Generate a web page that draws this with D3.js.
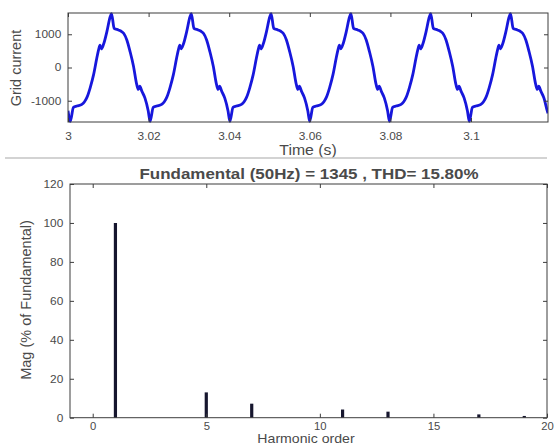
<!DOCTYPE html>
<html>
<head>
<meta charset="utf-8">
<script src="https://cdn.jsdelivr.net/npm/d3@7/dist/d3.min.js"></script>
<style>
  html, body { margin: 0; padding: 0; background: #ffffff; }
  svg { display: block; }
  text { font-family: "Liberation Sans", Arial, Helvetica, sans-serif; }
</style>
</head>
<body>
<svg id="fig" width="555" height="446"></svg>
<script>
// ---- Grid current waveform (time in ms after t = 3 s, current in A) ----
const timeStart = 3;
const timeMs = [
  0,
  0.57, 1.35, 2.2, 3.45, 4.1, 4.7, 5.5, 6.35, 7.15, 7.6, 7.95, 8.25, 8.8, 9.65, 10.45,
  10.8, 11.45, 12.5, 13.2, 13.8, 14.6, 15.4, 16.25, 17.05, 17.45, 17.8, 18.35, 19.1, 19.9,
  20.37, 21.15, 22.0, 23.25, 23.9, 24.5, 25.3, 26.15, 26.95, 27.4, 27.75, 28.05, 28.6, 29.45, 30.25,
  30.6, 31.25, 32.3, 33.0, 33.6, 34.4, 35.2, 36.05, 36.85, 37.25, 37.6, 38.15, 38.9, 39.7,
  40.17, 40.95, 41.8, 43.05, 43.7, 44.3, 45.1, 45.95, 46.75, 47.2, 47.55, 47.85, 48.4, 49.25, 50.05,
  50.4, 51.05, 52.1, 52.8, 53.4, 54.2, 55.0, 55.85, 56.65, 57.05, 57.4, 57.95, 58.7, 59.5,
  59.97, 60.75, 61.6, 62.85, 63.5, 64.1, 64.9, 65.75, 66.55, 67.0, 67.35, 67.65, 68.2, 69.05, 69.85,
  70.2, 70.85, 71.9, 72.6, 73.2, 74.0, 74.8, 75.65, 76.45, 76.85, 77.2, 77.75, 78.5, 79.3,
  79.77, 80.55, 81.4, 82.65, 83.3, 83.9, 84.7, 85.55, 86.35, 86.8, 87.15, 87.45, 88.0, 88.85, 89.65,
  90.0, 90.65, 91.7, 92.4, 93.0, 93.8, 94.6, 95.45, 96.25, 96.65, 97.0, 97.55, 98.3, 99.1,
  99.57, 100.35, 101.2, 102.45, 103.1, 103.7, 104.5, 105.35, 106.15, 106.6, 106.95, 107.25, 107.8, 108.65, 109.45,
  109.8, 110.45, 111.5, 112.2, 112.8, 113.6, 114.4, 115.25, 116.05, 116.45, 116.8, 117.35, 118.1, 118.9,
  119.1
];
const gridCurrent = [
  -1300,
  -1620, -1200, -1160, -1110, -1030, -900, -610, -215, 285, 540, 670, 560, 690, 1080, 1520,
  1620, 1180, 1130, 1090, 1030, 830, 480, 40, -510, -660, -560, -720, -920, -1300,
  -1620, -1200, -1160, -1110, -1030, -900, -610, -215, 285, 540, 670, 560, 690, 1080, 1520,
  1620, 1180, 1130, 1090, 1030, 830, 480, 40, -510, -660, -560, -720, -920, -1300,
  -1620, -1200, -1160, -1110, -1030, -900, -610, -215, 285, 540, 670, 560, 690, 1080, 1520,
  1620, 1180, 1130, 1090, 1030, 830, 480, 40, -510, -660, -560, -720, -920, -1300,
  -1620, -1200, -1160, -1110, -1030, -900, -610, -215, 285, 540, 670, 560, 690, 1080, 1520,
  1620, 1180, 1130, 1090, 1030, 830, 480, 40, -510, -660, -560, -720, -920, -1300,
  -1620, -1200, -1160, -1110, -1030, -900, -610, -215, 285, 540, 670, 560, 690, 1080, 1520,
  1620, 1180, 1130, 1090, 1030, 830, 480, 40, -510, -660, -560, -720, -920, -1300,
  -1620, -1200, -1160, -1110, -1030, -900, -610, -215, 285, 540, 670, 560, 690, 1080, 1520,
  1620, 1180, 1130, 1090, 1030, 830, 480, 40, -510, -660, -560, -720, -920, -1300,
  -1380
];
const timeTicks = [3, 3.02, 3.04, 3.06, 3.08, 3.1];
const currentTicks = [-1000, 0, 1000];

// ---- Harmonic spectrum (% of fundamental) ----
const harmonicOrder = [1, 5, 7, 11, 13, 17, 19];
const harmonicMag = [100, 13, 7.2, 4.2, 3.1, 1.7, 0.9];
const orderTicks = [0, 5, 10, 15, 20];
const magTicks = [0, 20, 40, 60, 80, 100, 120];

const titleText = "Fundamental (50Hz) = 1345 , THD= 15.80%";

// ---- drawing ----
const svg = d3.select("#fig");
const AXIS = "#3c3c3c";
const TXT = "#4a4a4a";
const SX = 1.13;          // horizontal text stretch
const TICK = 4;

function hText(x, y, str, size, weight, anchor) {
  const g = svg.append("g").attr("transform", `translate(${x},${y}) scale(${SX},1)`);
  g.append("text")
    .attr("text-anchor", anchor || "middle")
    .attr("dominant-baseline", "central")
    .attr("font-size", size)
    .attr("font-weight", weight || "normal")
    .attr("fill", TXT)
    .text(str);
}
function vText(x, y, str, size) {
  svg.append("text")
    .attr("transform", `translate(${x},${y}) rotate(-90)`)
    .attr("text-anchor", "middle")
    .attr("dominant-baseline", "central")
    .attr("font-size", size)
    .attr("fill", TXT)
    .text(str);
}

function frame(x, y, xTicks, yTicks, fmtX, fmtY, padX, fsX) {
  const [x0, x1] = x.range();
  const [y0, y1] = y.range();
  const g = svg.append("g");
  const styleAxis = (sel, fs) => {
    sel.select(".domain").remove();
    sel.selectAll("line").attr("stroke", AXIS);
    sel.selectAll("text").attr("fill", TXT).attr("font-size", fs || 10.5)
      .attr("font-family", "Liberation Sans, Arial, sans-serif");
  };
  g.append("g").attr("transform", `translate(0,${y0})`)
    .call(d3.axisBottom(x).tickValues(xTicks).tickSize(-TICK).tickPadding(padX).tickFormat(fmtX))
    .call(s => styleAxis(s, fsX))
    .call(s => s.selectAll("text").attr("transform", `scale(${SX},1)`));
  g.append("g").attr("transform", `translate(0,${y1})`)
    .call(d3.axisTop(x).tickValues(xTicks).tickSize(-TICK).tickFormat(""))
    .call(styleAxis);
  g.append("g").attr("transform", `translate(${x0},0)`)
    .call(d3.axisLeft(y).tickValues(yTicks).tickSize(-TICK).tickPadding(6).tickFormat(fmtY))
    .call(styleAxis)
    .call(s => s.selectAll("text").attr("transform", `scale(${SX},1)`));
  g.append("g").attr("transform", `translate(${x1},0)`)
    .call(d3.axisRight(y).tickValues(yTicks).tickSize(-TICK).tickFormat(""))
    .call(styleAxis);
  g.append("rect")
    .attr("x", x0).attr("y", y1)
    .attr("width", x1 - x0).attr("height", y0 - y1)
    .attr("fill", "none").attr("stroke", AXIS).attr("stroke-width", 1);
}

// Top panel: grid current vs time
const xT = d3.scaleLinear().domain([3, 3.1191]).range([68, 548]);
const yT = d3.scaleLinear().domain([-1640, 1640]).range([122, 13]);
const currentPts = timeMs.map((ms, i) => [timeStart + ms / 1000, gridCurrent[i]]);

svg.append("defs").append("clipPath").attr("id", "clipTop")
  .append("rect").attr("x", 68).attr("y", 11).attr("width", 480).attr("height", 113);

svg.append("path")
  .datum(currentPts)
  .attr("clip-path", "url(#clipTop)")
  .attr("fill", "none")
  .attr("stroke", "#1717dc")
  .attr("stroke-width", 2.8)
  .attr("stroke-linejoin", "round")
  .attr("d", d3.line().x(d => xT(d[0])).y(d => yT(d[1])).curve(d3.curveMonotoneX));

frame(xT, yT, timeTicks, currentTicks, d => d3.format("")(+d.toFixed(2)), d => d, 10.5, 10.5);
hText(308, 150, "Time (s)", 14);
vText(16, 68, "Grid current", 14.5);

// Divider between panels
svg.append("line").attr("x1", 5).attr("x2", 547).attr("y1", 158).attr("y2", 158)
  .attr("stroke", "#c4c4c4").attr("stroke-width", 1.6);

// Bottom panel: harmonic spectrum
const xH = d3.scaleLinear().domain([-1, 20]).range([70, 547]);
const yH = d3.scaleLinear().domain([0, 120]).range([417.7, 184]);

svg.append("g").selectAll("line.bar")
  .data(harmonicOrder.map((h, i) => ({ h, m: harmonicMag[i] })))
  .join("line")
  .attr("class", "bar")
  .attr("x1", d => xH(d.h)).attr("x2", d => xH(d.h))
  .attr("y1", yH(0)).attr("y2", d => yH(d.m))
  .attr("stroke", "#16162e").attr("stroke-width", 3.2);

frame(xH, yH, orderTicks, magTicks, d => d, d => d, 5, 10);
hText(309, 174, titleText, 15, "bold");
hText(306, 439, "Harmonic order", 12.5);
vText(26, 300, "Mag (% of Fundamental)", 14.5);
</script>
</body>
</html>
